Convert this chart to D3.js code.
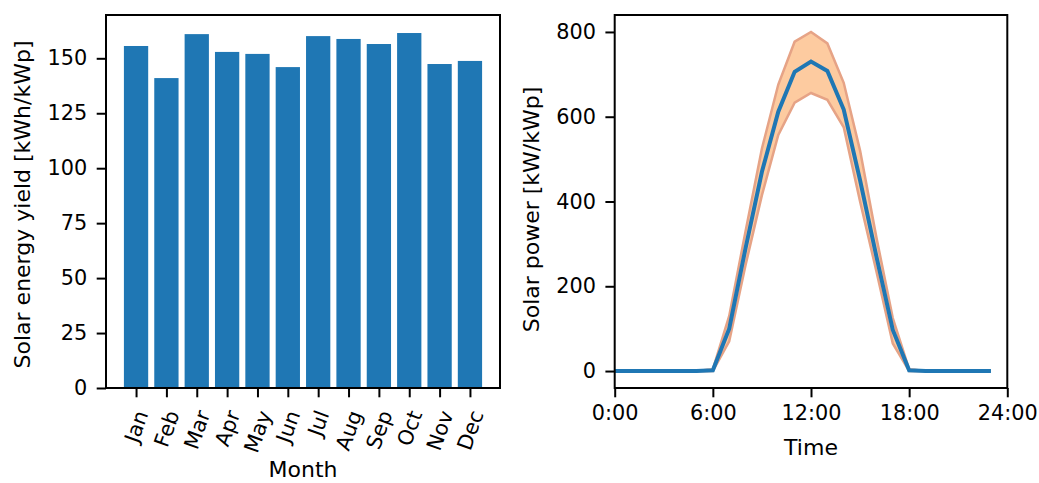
<!DOCTYPE html>
<html>
<head>
<meta charset="utf-8">
<script src="https://cdn.jsdelivr.net/npm/d3@7"></script>
<style>
  body { margin: 0; background: #fff; }
  svg text { font-family: "DejaVu Sans", sans-serif; fill: #000; }
</style>
</head>
<body>
<div id="chart"></div>
<script>
// monthly yield per kWp
const months = ['Jan', 'Feb', 'Mar', 'Apr', 'May', 'Jun', 'Jul', 'Aug', 'Sep', 'Oct', 'Nov', 'Dec']
const monthlyYield = [155.6, 141.0, 161.0, 152.9, 152.0, 146.0, 160.1, 158.8, 156.5, 161.5, 147.4, 148.8]
const yieldTicks = [0, 25, 50, 75, 100, 125, 150]

// daily profile, hourly
const hours = d3.range(0, 24)
const powerMean = [0, 0, 0, 0, 0, 0, 2, 100, 290, 470, 612, 706, 730, 708, 617, 450, 270, 97, 2, 0, 0, 0, 0, 0]
const powerUpper = [0, 0, 0, 0, 0, 0, 4, 130, 330, 525, 676, 777, 800, 773, 680, 520, 315, 125, 4, 0, 0, 0, 0, 0]
const powerLower = [0, 0, 0, 0, 0, 0, 0, 70, 250, 415, 557, 633, 656, 640, 575, 400, 235, 65, 0, 0, 0, 0, 0, 0]
const powerTicks = [0, 200, 400, 600, 800]
const timeTicks = [0, 6, 12, 18, 24]

const params = {
  width: 1039,
  height: 483,
  fontSize: 20.8,
  labelSize: 22,
  tickLen: 9.3,
  tickPad: 9.5,
  spine: 2,
}

const svg = d3.select('#chart')
  .append('svg')
  .attr('width', params.width)
  .attr('height', params.height)

function styleAxis(g) {
  g.select('.domain').remove()
  g.selectAll('.tick line').attr('stroke', '#000').attr('stroke-width', params.spine)
  g.selectAll('.tick text').style('font-size', params.fontSize + 'px')
}

function frame(box) {
  svg.append('rect')
    .attr('x', box.left)
    .attr('y', box.top)
    .attr('width', box.right - box.left)
    .attr('height', box.bottom - box.top)
    .attr('fill', 'none')
    .attr('stroke', '#000')
    .attr('stroke-width', params.spine)
}

// ---- left: monthly bars ----
const boxL = { left: 106, right: 500, top: 15, bottom: 388 }

const xL = d3.scaleLinear()
  .domain([-0.99, 11.99])
  .range([boxL.left, boxL.right])
const yL = d3.scaleLinear()
  .domain([0, 169.7])
  .range([boxL.bottom, boxL.top])

svg.append('g')
  .selectAll('rect')
  .data(monthlyYield)
  .enter()
  .append('rect')
  .attr('x', (d, i) => xL(i - 0.4))
  .attr('width', (d, i) => xL(i + 0.4) - xL(i - 0.4))
  .attr('y', d => yL(d))
  .attr('height', d => yL(0) - yL(d))
  .attr('fill', '#1f77b4')

svg.append('g')
  .attr('transform', `translate(${boxL.left},0)`)
  .call(d3.axisLeft(yL).tickValues(yieldTicks).tickSizeOuter(0)
    .tickSize(params.tickLen).tickPadding(params.tickPad))
  .call(styleAxis)

const xAxisL = svg.append('g')
  .attr('transform', `translate(0,${boxL.bottom})`)
  .call(d3.axisBottom(xL).tickValues(d3.range(12)).tickFormat(i => months[i])
    .tickSize(params.tickLen).tickSizeOuter(0))
  .call(styleAxis)

// rotated month labels, bbox top just below the ticks
xAxisL.selectAll('.tick text').each(function () {
  const t = d3.select(this)
  const w = this.getComputedTextLength()
  const h = params.fontSize * 1.16
  const a = 70 * Math.PI / 180
  const bboxH = w * Math.sin(a) + h * Math.cos(a)
  t.attr('y', 0).attr('dy', null)
    .attr('dominant-baseline', 'central')
    .attr('text-anchor', 'middle')
    .attr('transform', `translate(0,${params.tickLen + 10 + bboxH / 2}) rotate(-70)`)
})

frame(boxL)

svg.append('text')
  .attr('x', (boxL.left + boxL.right) / 2)
  .attr('y', 477)
  .attr('text-anchor', 'middle')
  .style('font-size', params.labelSize + 'px')
  .text('Month')

svg.append('text')
  .attr('transform', `translate(30,${(boxL.top + boxL.bottom) / 2 + 3}) rotate(-90)`)
  .attr('text-anchor', 'middle')
  .style('font-size', params.labelSize + 'px')
  .text('Solar energy yield [kWh/kWp]')

// ---- right: daily power profile ----
const boxR = { left: 614.7, right: 1007.3, top: 15, bottom: 388 }

const xR = d3.scaleLinear()
  .domain([0, 24])
  .range([boxR.left, boxR.right])
const yR = d3.scaleLinear()
  .domain([-40, 840])
  .range([boxR.bottom, boxR.top])

const band = d3.area()
  .x((d, i) => xR(hours[i]))
  .y0((d, i) => yR(powerLower[i]))
  .y1((d, i) => yR(powerUpper[i]))

svg.append('path')
  .datum(hours)
  .attr('d', band)
  .attr('fill', '#fdcba0')

const edge = d3.line()
  .x((d, i) => xR(hours[i]))
  .y(d => yR(d))

;[powerUpper, powerLower].forEach(series => {
  svg.append('path')
    .datum(series)
    .attr('d', edge)
    .attr('fill', 'none')
    .attr('stroke', '#e6a386')
    .attr('stroke-width', 2.5)
})

svg.append('path')
  .datum(powerMean)
  .attr('d', edge)
  .attr('fill', 'none')
  .attr('stroke', '#1f77b4')
  .attr('stroke-width', 4)

svg.append('g')
  .attr('transform', `translate(${boxR.left},0)`)
  .call(d3.axisLeft(yR).tickValues(powerTicks).tickSizeOuter(0)
    .tickSize(params.tickLen).tickPadding(params.tickPad))
  .call(styleAxis)

svg.append('g')
  .attr('transform', `translate(0,${boxR.bottom})`)
  .call(d3.axisBottom(xR).tickValues(timeTicks).tickFormat(d => d + ':00')
    .tickSize(params.tickLen).tickPadding(params.tickPad - 2).tickSizeOuter(0))
  .call(styleAxis)

frame(boxR)

svg.append('text')
  .attr('x', (boxR.left + boxR.right) / 2)
  .attr('y', 455)
  .attr('text-anchor', 'middle')
  .style('font-size', params.labelSize + 'px')
  .text('Time')

svg.append('text')
  .attr('transform', `translate(539,${(boxR.top + boxR.bottom) / 2 + 8}) rotate(-90)`)
  .attr('text-anchor', 'middle')
  .style('font-size', params.labelSize + 'px')
  .text('Solar power [kW/kWp]')
</script>
</body>
</html>
